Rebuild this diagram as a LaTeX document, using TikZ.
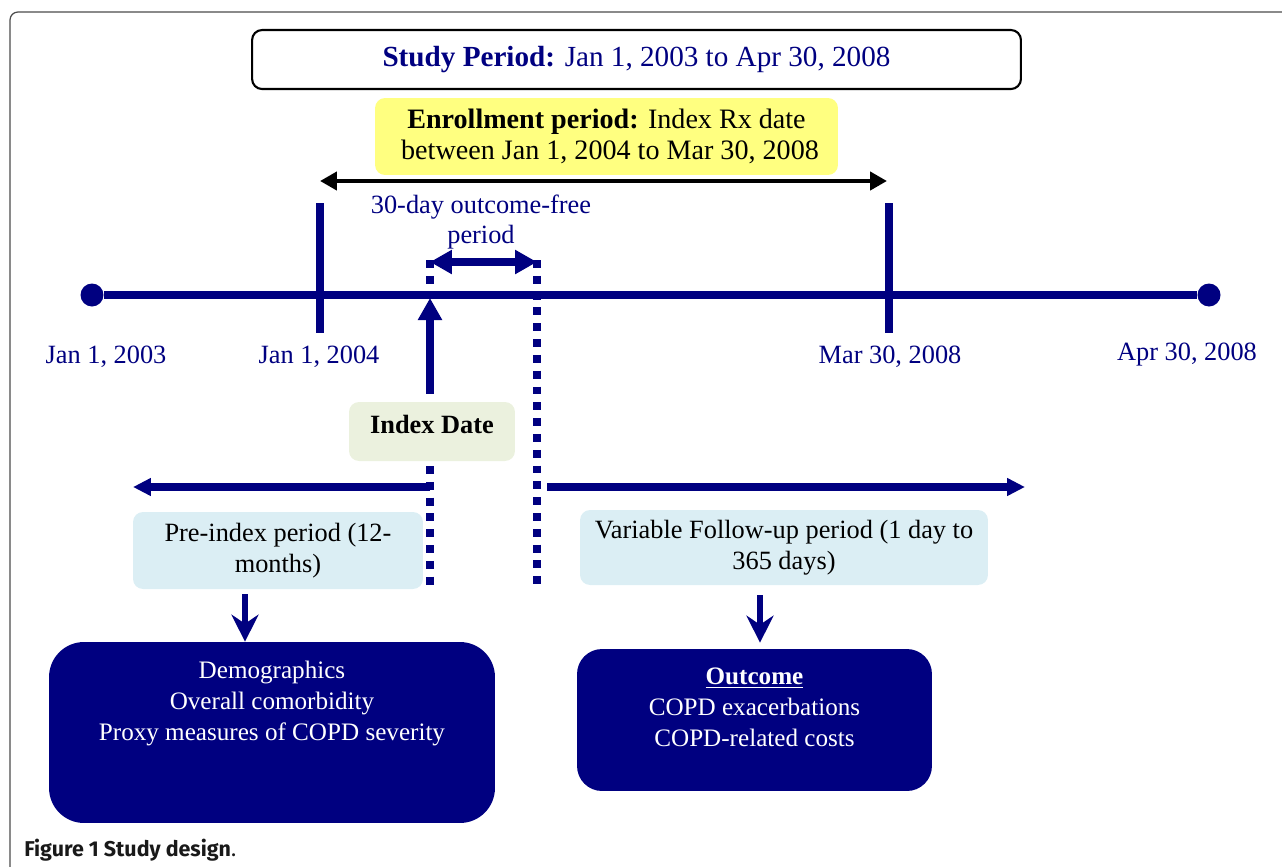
\documentclass[tikz,border=0pt]{standalone}
\usepackage{fontspec}
\setmainfont{Liberation Serif}
\newfontfamily\capfont{Fira Sans}
\usepackage{xcolor}
\usepackage{tikz}
\usetikzlibrary{arrows.meta}
\usetikzlibrary{positioning}
\definecolor{navy}{RGB}{0,0,128}
\definecolor{enrollyellow}{RGB}{255,255,128}
\definecolor{idxgreen}{RGB}{235,241,222}
\definecolor{paleblue}{RGB}{219,238,244}

\tikzset{
    bigtip/.tip={Triangle[length=0.44cm, width=0.46cm]},
    sidetip/.tip={Triangle[length=0.36cm, width=0.34cm]},
    blacktip/.tip={Triangle[length=0.34cm, width=0.36cm]},
    downtip/.tip={Stealth[length=0.54cm, width=0.54cm, inset=0.18cm]}
}

\begin{document}
\begin{tikzpicture}[x=0.02cm, y=-0.02cm,
    navyline/.style={draw=navy, line width=4pt},
    dotline/.style={draw=navy, line width=4pt, dash pattern=on 4.5pt off 4.5pt},
    datelbl/.style={text=navy, font=\fontsize{15}{17}\selectfont},
    softbox/.style={rounded corners=0.2cm, inner sep=0pt, align=center,
        font=\fontsize{15}{17.6}\selectfont},
    darkbox/.style={fill=navy, inner sep=0pt},
    boxtext/.style={text=white, align=center, inner sep=0pt,
        font=\fontsize{14.3}{17.6}\selectfont},
    dot/.style={circle, fill=navy, inner sep=0pt, minimum size=0.46cm}
  ]

    \useasboundingbox (0,0) rectangle (1282,866);
    \clip (0,0) rectangle (1282,866);

    % frame
    \draw[black!70, line width=0.7pt, rounded corners=0.16cm]
        (10,900) -- (10,12) -- (1320,12);

    % top boxes
    \node (study) [softbox, draw=black, line width=1.2pt, text=navy,
        minimum width=15.38cm, minimum height=1.18cm,
        font=\fontsize{16.6}{19}\selectfont] at (636.5,59.5)
        {\textbf{Study Period:} Jan 1, 2003 to Apr 30, 2008};
    \node (enroll) [softbox, fill=enrollyellow,
        minimum width=9.26cm, minimum height=1.54cm,
        font=\fontsize{16}{17.6}\selectfont] at (606.5,136.5)
        {\textbf{Enrollment period:} Index Rx date\\
         \ between Jan 1, 2004 to Mar 30, 2008};

    \coordinate (enrollL) at (320,181);
    \coordinate (enrollR) at (887,181);
    \draw[black, line width=2.8pt, {blacktip}-{blacktip}]
        (enrollL) -- (enrollR);

    % time line
    \node (start) [dot] at (92,295) {};
    \node (end) [dot] at (1209,295) {};
    \draw[navyline, line width=4.5pt] (start) -- (end);

    \coordinate (t04a) at (320,203);
    \coordinate (t04b) at (320,333);
    \coordinate (t08a) at (889,203);
    \coordinate (t08b) at (889,333);
    \draw[navyline] (t04a) -- (t04b);
    \draw[navyline] (t08a) -- (t08b);

    \node (l03) [datelbl] at (106,357) {Jan 1, 2003};
    \node (l04) [datelbl] at (319,357) {Jan 1, 2004};
    \node (l08) [datelbl] at (890,357) {Mar 30, 2008};
    \node (lend) [datelbl] at (1187,355) {Apr 30, 2008};

    % outcome-free period
    \node (free) [datelbl, align=center] at (481,222)
        {30-day outcome-free\\period};
    \coordinate (freeL) at (430,262);
    \coordinate (freeR) at (537,262);
    \draw[navy, line width=4pt, {bigtip}-{bigtip}] (freeL) -- (freeR);

    \coordinate (idxtop) at (430,260);
    \coordinate (idxline) at (430,292);
    \coordinate (idxlow) at (430,466);
    \coordinate (idxbot) at (430,586);
    \coordinate (freetop) at (537,260);
    \coordinate (freebot) at (537,586);
    \draw[dotline] (idxtop) -- (idxline);
    \draw[dotline] (idxlow) -- (idxbot);
    \draw[dotline] (freetop) -- (freebot);

    % index date
    \node (idx) [softbox, fill=idxgreen, minimum width=3.32cm,
        minimum height=1.18cm, text depth=8pt,
        font=\fontsize{15}{17.6}\selectfont\bfseries] at (432,431.5) {Index Date};
    \coordinate (upto) at (430,298);
    \draw[navy, line width=4pt, -{bigtip}, shorten <=0.16cm]
        (idx.north -| upto) -- (upto);

    % periods
    \coordinate (preR) at (430,487);
    \coordinate (preL) at (133,487);
    \coordinate (fupL) at (547,487);
    \coordinate (fupR) at (1025,487);
    \draw[navy, line width=4pt, -{sidetip}] (preR) -- (preL);
    \draw[navy, line width=4pt, -{sidetip}] (fupL) -- (fupR);

    \node (pre) [softbox, fill=paleblue, minimum width=5.8cm,
        minimum height=1.54cm] at (278,550.5)
        {Pre-index period (12-\\months)};
    \node (fup) [softbox, fill=paleblue, minimum width=8.16cm,
        minimum height=1.5cm] at (784,547.5)
        {Variable Follow-up period (1 day to\\365 days)};

    % results
    \node (demo) [darkbox, rounded corners=0.7cm, minimum width=8.92cm,
        minimum height=3.62cm] at (272,732.5) {};
    \node (demotxt) [boxtext, below=0.38cm of demo.north]
        {Demographics\\Overall comorbidity\\Proxy measures of COPD severity};
    \node (outc) [darkbox, rounded corners=0.5cm, minimum width=7.1cm,
        minimum height=2.84cm] at (754.5,720) {};
    \node (outctxt) [boxtext, below=0.38cm of outc.north]
        {\underline{\textbf{Outcome}}\\COPD exacerbations\\COPD-related costs};

    \coordinate (preout) at (245,594);
    \coordinate (fupout) at (760,595);
    \draw[navy, line width=3.4pt, -{downtip}] (preout) -- (preout |- demo.north);
    \draw[navy, line width=3.4pt, -{downtip}, shorten >=0.12cm]
        (fupout) -- (fupout |- outc.north);

    % caption
    \node (cap) [anchor=base west, inner sep=0pt, text=black!90,
        font=\capfont\bfseries\fontsize{12.2}{14}\selectfont] at (24,856)
        {Figure 1 Study design\textmd{.}};

\end{tikzpicture}
\end{document}
